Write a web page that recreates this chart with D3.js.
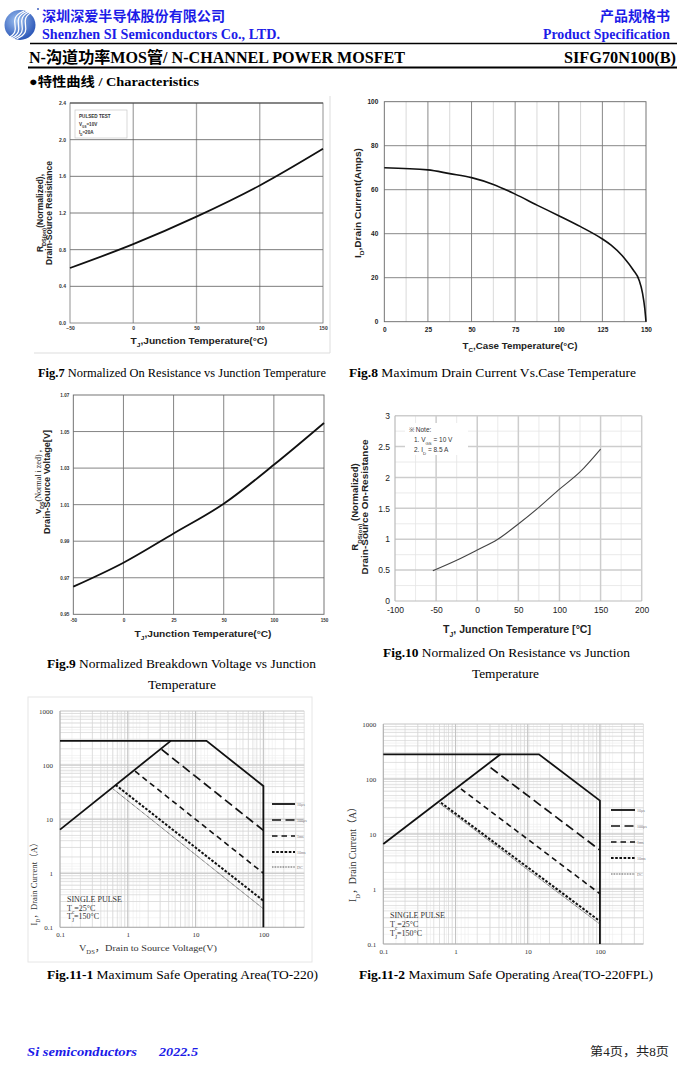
<!DOCTYPE html>
<html>
<head>
<meta charset="utf-8">
<script src="https://cdnjs.cloudflare.com/ajax/libs/d3/7.8.5/d3.min.js"></script>
<style>
  body { margin: 0; background: #fff; }
  svg { display: block; }
</style>
</head>
<body>
<svg id="page" width="690" height="1066"></svg>
<script>
// ---- data ----
const fig7Temp = [-50, 0, 50, 100, 150];
const fig7Rds = [0.60, 0.86, 1.16, 1.50, 1.90];

const fig8Temp = [0, 25, 37.5, 50, 62.5, 75, 87.5, 100, 112.5, 125, 130, 137.5, 142.7, 146, 148, 149.3, 150];
const fig8Id = [70, 69, 67.3, 65.5, 62.4, 58, 53, 48.2, 43.2, 37.6, 34.8, 29, 23.5, 19, 13, 6, 0];

const fig9Labels = ['-50', '0', '25', '50', '100', '150'];
const fig9Vds = [0.9651, 0.9782, 0.9942, 1.0105, 1.0318, 1.0547];
const fig9YTicks = [0.95, 0.97, 0.99, 1.01, 1.03, 1.05, 1.07];

const fig10Temp = [-54, -25, 0, 25, 50, 75, 100, 125, 150];
const fig10Rds = [0.49, 0.66, 0.826, 1.0, 1.247, 1.516, 1.81, 2.09, 2.46];

const soaNames = ['10μs', '100μs', '1ms', '10ms', 'DC'];
// TO-220
const soa1Limit = [[0.1, 280], [14.5, 280], [100, 41], [100, 0.1]];
const soa1Rds = [[0.1, 6.4], [4.3, 280]];
const soa1_100us = [[3.15, 195], [100, 6.2]];
const soa1_1ms = [[1.28, 77], [100, 1.0]];
const soa1_10ms = [[0.66, 43], [100, 0.31]];
const soa1_dc = [[0.61, 36], [100, 0.22]];
// TO-220FPL
const soa2Limit = [[0.1, 281], [14.3, 281], [100, 40.4], [100, 0.1]];
const soa2Rds = [[0.1, 6.6], [4.2, 281]];
const soa2_100us = [[3.06, 161], [100, 5.1]];
const soa2_1ms = [[1.19, 66], [100, 0.82]];
const soa2_10ms = [[0.63, 37], [100, 0.26]];
const soa2_dc = [[0.6, 36], [100, 0.23]];

// ---- common stuff ----
const SANS = "'Liberation Sans', Arial, sans-serif";
const SERIF = "'Liberation Serif', 'Times New Roman', serif";
const CJK = "'Noto Sans CJK SC', sans-serif";
const MIXED = "'Liberation Serif', 'Noto Sans CJK SC', serif";
const BLUE = '#1c1ce8';

const svg = d3.select('#page');

// parts: [text, {sub, size, weight, family}]
function addText(parent, x, y, parts, o) {
    o = o || {};
    const t = parent.append('text')
        .attr('x', x).attr('y', y)
        .attr('font-family', o.family || SANS)
        .attr('font-size', o.size || 10)
        .attr('font-weight', o.weight || 'normal')
        .attr('font-style', o.style || 'normal')
        .attr('fill', o.fill || '#000')
        .attr('text-anchor', o.anchor || 'start');
    if (o.rotate)
        t.attr('transform', `rotate(${o.rotate},${x},${y})`);
    if (o.len)
        t.attr('textLength', o.len).attr('lengthAdjust', 'spacingAndGlyphs');
    for (const p of parts) {
        const [str, st] = typeof p === 'string' ? [p, {}] : p;
        const s = t.append('tspan').text(str);
        if (st.sub) s.attr('baseline-shift', 'sub').attr('font-size', st.size || (o.size || 10) * 0.65);
        else if (st.size) s.attr('font-size', st.size);
        if (st.weight) s.attr('font-weight', st.weight);
        if (st.family) s.attr('font-family', st.family);
    }
    return t;
}

function styleAxis(g, family, size, weight, fill) {
    g.select('.domain').remove();
    g.selectAll('.tick line').remove();
    g.attr('font-family', family).attr('font-size', size)
        .attr('font-weight', weight);
    g.selectAll('text').attr('fill', fill);
}

function gridLines(g, vals, scale, dir, a0, a1, color, w) {
    g.append('g').selectAll('line').data(vals).enter().append('line')
        .attr(dir === 'v' ? 'x1' : 'y1', d => scale(d))
        .attr(dir === 'v' ? 'x2' : 'y2', d => scale(d))
        .attr(dir === 'v' ? 'y1' : 'x1', a0)
        .attr(dir === 'v' ? 'y2' : 'x2', a1)
        .attr('stroke', color).attr('stroke-width', w);
}

// ---- header ----
const hdr = svg.append('g');
const grad = svg.append('defs').append('radialGradient').attr('id', 'lg')
    .attr('cx', '40%').attr('cy', '35%').attr('r', '70%');
grad.append('stop').attr('offset', '0%').attr('stop-color', '#9cc0f0');
grad.append('stop').attr('offset', '100%').attr('stop-color', '#2450b4');
hdr.append('ellipse').attr('cx', 20).attr('cy', 25).attr('rx', 15.5).attr('ry', 15).attr('fill', 'url(#lg)');
for (const off of [-5, -1.5, 2, 5.5]) {
    hdr.append('path')
        .attr('d', `M ${29 + off} ${11} C ${8 + off} ${20}, ${32 + off} ${30}, ${11 + off} ${39}`)
        .attr('fill', 'none').attr('stroke', '#fff').attr('stroke-width', 1.3);
}
hdr.append('circle').attr('cx', 38).attr('cy', 9).attr('r', 1).attr('fill', '#4060c0');

addText(hdr, 42, 21, ['深圳深爱半导体股份有限公司'], { family: CJK, size: 13.5, weight: 'bold', fill: BLUE, len: 183 });
addText(hdr, 42, 39, ['Shenzhen SI Semiconductors Co., LTD.'], { family: SERIF, size: 14, weight: 'bold', fill: BLUE, len: 238 });
addText(hdr, 670, 21, ['产品规格书'], { family: CJK, size: 13.5, weight: 'bold', fill: BLUE, anchor: 'end', len: 70 });
addText(hdr, 670, 39, ['Product Specification'], { family: SERIF, size: 14, weight: 'bold', fill: BLUE, anchor: 'end', len: 127 });
hdr.append('line').attr('x1', 30).attr('x2', 677).attr('y1', 43.5).attr('y2', 43.5).attr('stroke', '#000').attr('stroke-width', 1.5);
addText(hdr, 29, 63, ['N-沟道功率MOS管/ N-CHANNEL POWER MOSFET'], { family: MIXED, size: 16, weight: 'bold', len: 376 });
addText(hdr, 676, 63, ['SIFG70N100(B)'], { family: SERIF, size: 16, weight: 'bold', anchor: 'end', len: 112 });
hdr.append('line').attr('x1', 28).attr('x2', 677).attr('y1', 67.5).attr('y2', 67.5).attr('stroke', '#000').attr('stroke-width', 2);
addText(hdr, 29, 86, ['●特性曲线  / Characteristics'], { family: MIXED, size: 13, weight: 'bold', len: 170 });

// ---- Fig.7 ----
{
    const g = svg.append('g');
    const x = d3.scaleLinear().domain([-50, 150]).range([70, 323]);
    const y = d3.scaleLinear().domain([0, 2.4]).range([323, 103]);
    g.append('line').attr('x1', 330).attr('x2', 330).attr('y1', 96).attr('y2', 353).attr('stroke', '#ddd');
    g.append('line').attr('x1', 34).attr('x2', 330).attr('y1', 353).attr('y2', 353).attr('stroke', '#ddd');
    gridLines(g, [0, 50, 100], x, 'v', 103, 323, '#a8a8a8', 1.3);
    gridLines(g, [0.4, 0.8, 1.2, 1.6, 2.0], y, 'h', 70, 323, '#5a5a5a', 0.8);
    g.append('rect').attr('x', 70).attr('y', 103).attr('width', 253).attr('height', 220)
        .attr('fill', 'none').attr('stroke', '#777').attr('stroke-width', 0.8);
    g.append('line').attr('x1', 70).attr('x2', 323).attr('y1', 103).attr('y2', 103).attr('stroke', '#444');

    const ax = g.append('g').attr('transform', 'translate(0,323)')
        .call(d3.axisBottom(x).tickValues([-50, 0, 50, 100, 150]).tickSize(0).tickPadding(3));
    styleAxis(ax, SANS, 5, 'bold', '#333');
    const ay = g.append('g').attr('transform', 'translate(70,0)')
        .call(d3.axisLeft(y).tickValues(d3.range(0, 2.41, 0.4)).tickFormat(d3.format('.1f')).tickSize(0).tickPadding(4));
    styleAxis(ay, SANS, 5, 'bold', '#333');

    g.append('rect').attr('x', 75).attr('y', 110).attr('width', 52).attr('height', 28)
        .attr('fill', '#fff').attr('stroke', '#c8c8c8').attr('stroke-width', 0.7);
    addText(g, 79, 118, ['PULSED TEST'], { size: 4.6, weight: 'bold', fill: '#333' });
    addText(g, 79, 126, ['V', ['GS', { sub: 1 }], '=10V'], { size: 4.6, weight: 'bold', fill: '#333' });
    addText(g, 79, 134, ['I', ['D', { sub: 1 }], '=20A'], { size: 4.6, weight: 'bold', fill: '#333' });

    g.append('path').datum(fig7Temp.map((t, i) => [t, fig7Rds[i]]))
        .attr('d', d3.line().x(d => x(d[0])).y(d => y(d[1])).curve(d3.curveMonotoneX))
        .attr('fill', 'none').attr('stroke', '#111').attr('stroke-width', 1.8);

    addText(g, 43, 213, ['R', ['DS(on)', { sub: 1 }], '(Normalized),'], { size: 8.5, weight: 'bold', anchor: 'middle', rotate: -90, fill: '#222' });
    addText(g, 52, 213, ['Drain-Source Resisitance'], { size: 8.5, weight: 'bold', anchor: 'middle', rotate: -90, fill: '#222', len: 104 });
    addText(g, 199, 344, ['T', ['J', { sub: 1 }], ',Junction Temperature(°C)'], { size: 9, weight: 'bold', anchor: 'middle', fill: '#222', len: 137 });
}

// ---- Fig.8 ----
{
    const g = svg.append('g');
    const x = d3.scaleLinear().domain([0, 150]).range([384.3, 646]);
    const y = d3.scaleLinear().domain([0, 100]).range([321.7, 101.7]);
    gridLines(g, [12.5, 37.5, 62.5, 87.5, 112.5, 137.5], x, 'v', 101.7, 321.7, '#cfcfcf', 0.8);
    gridLines(g, [25, 50, 75, 100, 125], x, 'v', 101.7, 321.7, '#7a7a7a', 0.9);
    gridLines(g, [20, 40, 60, 80], y, 'h', 384.3, 646, '#7a7a7a', 0.9);
    g.append('rect').attr('x', 384.3).attr('y', 101.7).attr('width', 261.7).attr('height', 220)
        .attr('fill', 'none').attr('stroke', '#666').attr('stroke-width', 0.9);

    const ax = g.append('g').attr('transform', 'translate(0,321.7)')
        .call(d3.axisBottom(x).tickValues([0, 25, 50, 75, 100, 125, 150]).tickSize(0).tickPadding(6));
    styleAxis(ax, SANS, 6.5, 'bold', '#222');
    const ay = g.append('g').attr('transform', 'translate(384.3,0)')
        .call(d3.axisLeft(y).tickValues([0, 20, 40, 60, 80, 100]).tickSize(0).tickPadding(6));
    styleAxis(ay, SANS, 6.5, 'bold', '#222');

    g.append('path').datum(fig8Temp.map((t, i) => [t, fig8Id[i]]))
        .attr('d', d3.line().x(d => x(d[0])).y(d => y(d[1])).curve(d3.curveMonotoneX))
        .attr('fill', 'none').attr('stroke', '#111').attr('stroke-width', 1.6);

    addText(g, 361, 203, ['I', ['D', { sub: 1 }], ',Drain Current(Amps)'], { size: 8.5, weight: 'bold', anchor: 'middle', rotate: -90, fill: '#222', len: 110 });
    addText(g, 520, 349, ['T', ['C', { sub: 1 }], ',Case Temperature(°C)'], { size: 8.5, weight: 'bold', anchor: 'middle', fill: '#222', len: 115 });
}

// ---- Fig.9 ----
{
    const g = svg.append('g');
    const x = d3.scaleLinear().domain([0, fig9Labels.length - 1]).range([73.3, 324]);
    const y = d3.scaleLinear().domain([0.95, 1.07]).range([614.3, 395]);
    gridLines(g, d3.range(1, fig9Labels.length - 1), x, 'v', 395, 614.3, '#777', 0.9);
    gridLines(g, fig9YTicks.slice(1, -1), y, 'h', 73.3, 324, '#777', 0.9);
    g.append('rect').attr('x', 73.3).attr('y', 395).attr('width', 250.7).attr('height', 219.3)
        .attr('fill', 'none').attr('stroke', '#666').attr('stroke-width', 0.9);

    const ax = g.append('g').attr('transform', 'translate(0,614.3)')
        .call(d3.axisBottom(x).tickValues(d3.range(fig9Labels.length)).tickFormat(i => fig9Labels[i]).tickSize(0).tickPadding(4));
    styleAxis(ax, SANS, 4.6, 'bold', '#333');
    const ay = g.append('g').attr('transform', 'translate(73.3,0)')
        .call(d3.axisLeft(y).tickValues(fig9YTicks).tickFormat(d3.format('.2f')).tickSize(0).tickPadding(4));
    styleAxis(ay, SANS, 4.6, 'bold', '#333');

    g.append('path').datum(fig9Vds.map((v, i) => [i, v]))
        .attr('d', d3.line().x(d => x(d[0])).y(d => y(d[1])).curve(d3.curveMonotoneX))
        .attr('fill', 'none').attr('stroke', '#111').attr('stroke-width', 1.8);

    addText(g, 41, 482, ['V', ['DS', { sub: 1 }], ['(Normal i zed)', { family: SERIF, weight: 'normal' }], ' ,'], { size: 8, weight: 'bold', anchor: 'middle', rotate: -90, fill: '#222' });
    addText(g, 50, 482, ['Drain-Source Voltage[V]'], { size: 8.2, weight: 'bold', anchor: 'middle', rotate: -90, fill: '#222', len: 104 });
    addText(g, 203, 637, ['T', ['J', { sub: 1 }], ',Junction Temperature(°C)'], { size: 9, weight: 'bold', anchor: 'middle', fill: '#222', len: 137 });
}

// ---- Fig.10 ----
{
    const g = svg.append('g');
    const x = d3.scaleLinear().domain([-100, 200]).range([395, 641.7]);
    const y = d3.scaleLinear().domain([0, 3]).range([601, 415.7]);
    gridLines(g, d3.range(-75, 200, 50), x, 'v', 415.7, 601, '#e4e4e4', 0.8);
    gridLines(g, d3.range(0.25, 3, 0.5), y, 'h', 395, 641.7, '#e4e4e4', 0.8);
    gridLines(g, d3.range(-50, 201, 50), x, 'v', 415.7, 601, '#cdcdcd', 1.5);
    gridLines(g, d3.range(0.5, 3.01, 0.5), y, 'h', 395, 641.7, '#cdcdcd', 1.5);
    g.append('line').attr('x1', 395).attr('x2', 395).attr('y1', 415.7).attr('y2', 601).attr('stroke', '#bbb').attr('stroke-width', 1.2);
    g.append('line').attr('x1', 395).attr('x2', 641.7).attr('y1', 601).attr('y2', 601).attr('stroke', '#bbb').attr('stroke-width', 1.2);

    const ax = g.append('g').attr('transform', 'translate(0,601)')
        .call(d3.axisBottom(x).tickValues(d3.range(-100, 201, 50)).tickFormat(d => d < 0 ? '-' + Math.abs(d) : String(d)).tickSize(0).tickPadding(6));
    styleAxis(ax, SANS, 8.5, 'normal', '#222');
    const ay = g.append('g').attr('transform', 'translate(395,0)')
        .call(d3.axisLeft(y).tickValues(d3.range(0, 3.01, 0.5)).tickFormat(d => String(+d.toFixed(1))).tickSize(0).tickPadding(5));
    styleAxis(ay, SANS, 8.5, 'normal', '#222');

    g.append('rect').attr('x', 405).attr('y', 423).attr('width', 63).attr('height', 32).attr('fill', '#fff');
    addText(g, 409, 432, ['※ Note:'], { size: 6.5, fill: '#333' });
    addText(g, 414, 442, ['1. V', ['GS', { sub: 1 }], ' = 10 V'], { size: 6.5, fill: '#333' });
    addText(g, 414, 451.5, ['2. I', ['D', { sub: 1 }], ' = 8.5 A'], { size: 6.5, fill: '#333' });

    g.append('path').datum(fig10Temp.map((t, i) => [t, fig10Rds[i]]))
        .attr('d', d3.line().x(d => x(d[0])).y(d => y(d[1])).curve(d3.curveMonotoneX))
        .attr('fill', 'none').attr('stroke', '#444').attr('stroke-width', 1.1);

    addText(g, 358, 507, ['R', ['DS(on)', { sub: 1 }], ' (Normalized)'], { size: 9.5, weight: 'bold', anchor: 'middle', rotate: -90, fill: '#222' });
    addText(g, 368, 507, ['Drain-Source On-Resistance'], { size: 9.5, weight: 'bold', anchor: 'middle', rotate: -90, fill: '#222', len: 135 });
    addText(g, 517, 633, ['T', ['J', { sub: 1 }], ', Junction Temperature [°C]'], { size: 10, weight: 'bold', anchor: 'middle', fill: '#222', len: 148 });
}

// ---- SOA figures ----
function logGridVals(lo, hi) {
    const out = [];
    for (let e = lo; e < hi; e++)
        for (let k = 1; k < 10; k++) out.push(k * Math.pow(10, e));
    return out;
}

function soaChart(o) {
    const g = svg.append('g');
    const x = d3.scaleLog().domain([0.1, 400]).range([o.x0, o.x1]);
    const y = d3.scaleLog().domain([0.1, 1000]).range([o.y1, o.y0]);
    const xv = logGridVals(-1, 3).filter(v => v <= 400);
    const yv = logGridVals(-1, 3);
    // half steps to get the dense look of the original
    const xh = logGridVals(-1, 3).map(v => v * 1.5).filter(v => v < 400);
    const yh = logGridVals(-1, 3).map(v => v * 1.5).filter(v => v < 1000);
    gridLines(g, xh, x, 'v', o.y0, o.y1, '#ececec', 0.6);
    gridLines(g, yh, y, 'h', o.x0, o.x1, '#ececec', 0.6);
    gridLines(g, xv, x, 'v', o.y0, o.y1, '#d6d6d6', 0.7);
    gridLines(g, yv, y, 'h', o.x0, o.x1, '#d6d6d6', 0.7);
    gridLines(g, [1, 10, 100], x, 'v', o.y0, o.y1, '#c4c4c4', 1);
    gridLines(g, [1, 10, 100, 1000], y, 'h', o.x0, o.x1, '#c4c4c4', 1);
    g.append('line').attr('x1', o.x0).attr('x2', o.x0).attr('y1', o.y0).attr('y2', o.y1).attr('stroke', '#aaa');
    g.append('line').attr('x1', o.x0).attr('x2', o.x1).attr('y1', o.y1).attr('y2', o.y1).attr('stroke', '#aaa');

    const ax = g.append('g').attr('transform', `translate(0,${o.y1})`)
        .call(d3.axisBottom(x).tickValues([0.1, 1, 10, 100]).tickFormat(d => d < 1 ? '0.1' : String(d)).tickSize(0).tickPadding(5));
    styleAxis(ax, SERIF, 7, 'normal', '#333');
    const ay = g.append('g').attr('transform', `translate(${o.x0 - 2},0)`)
        .call(d3.axisLeft(y).tickValues([0.1, 1, 10, 100, 1000]).tickFormat(d => d < 1 ? '0.1' : String(d)).tickSize(0).tickPadding(5));
    styleAxis(ay, SERIF, 7, 'normal', '#333');

    const line = d3.line().x(d => x(d[0])).y(d => y(d[1]));
    const styles = [
        { dash: null, w: 1.8, c: '#111' },
        { dash: '9,4.5', w: 1.7, c: '#111' },
        { dash: '5.5,4', w: 1.6, c: '#111' },
        { dash: '2.6,1.6', w: 2, c: '#111' },
        { dash: '0.8,0.8', w: 1, c: '#333' }
    ];
    const series = [o.limit, o.us100, o.ms1, o.ms10, o.dc];
    series.forEach((s, i) => {
        g.append('path').datum(s).attr('d', line)
            .attr('fill', 'none').attr('stroke', styles[i].c).attr('stroke-width', styles[i].w)
            .attr('stroke-dasharray', styles[i].dash);
    });
    g.append('path').datum(o.rds).attr('d', line)
        .attr('fill', 'none').attr('stroke', '#111').attr('stroke-width', 1.8);

    // legend
    soaNames.forEach((n, i) => {
        const ly = o.legY[i];
        g.append('line').attr('x1', o.legX).attr('x2', o.legX + o.legW).attr('y1', ly).attr('y2', ly)
            .attr('stroke', styles[i].c).attr('stroke-width', styles[i].w).attr('stroke-dasharray', styles[i].dash);
        addText(g, o.legX + o.legW + 2, ly + 1.5, [n], { family: SERIF, size: 4, fill: '#777' });
    });

    addText(g, o.noteX, o.noteY, ['SINGLE PULSE'], { family: SERIF, size: 8, fill: '#333' });
    addText(g, o.noteX, o.noteY + o.noteDy, ['T', ['c', { sub: 1 }], '=25°C'], { family: SERIF, size: 8, fill: '#333' });
    addText(g, o.noteX, o.noteY + 2 * o.noteDy, ['T', ['J', { sub: 1 }], '=150°C'], { family: SERIF, size: 8, fill: '#333' });

    addText(g, o.ytX, o.ytY, ['I', ['D', { sub: 1 }], '，Drain Current（A）'], { family: MIXED, size: o.ytSize, anchor: 'middle', rotate: -90, fill: '#333', len: o.ytLen });
    return g;
}

// Fig.11-1 frame
svg.append('rect').attr('x', 28).attr('y', 697).attr('width', 284).attr('height', 265)
    .attr('fill', 'none').attr('stroke', '#e6e6e6').attr('stroke-width', 1);

const soa1 = soaChart({
    x0: 60, x1: 304.2, y0: 711, y1: 927.3,
    limit: soa1Limit, rds: soa1Rds, us100: soa1_100us, ms1: soa1_1ms, ms10: soa1_10ms, dc: soa1_dc,
    legX: 272, legW: 23, legY: [804, 820, 836, 852, 867],
    noteX: 67, noteY: 902, noteDy: 8.5,
    ytX: 37, ytY: 882, ytSize: 9, ytLen: 87
});
addText(soa1, 148, 951, ['V', ['DS', { sub: 1 }], '，Drain to Source Voltage(V)'], { family: MIXED, size: 8.5, anchor: 'middle', fill: '#333', len: 138 });

soaChart({
    x0: 383.3, x1: 643.4, y0: 724, y1: 944,
    limit: soa2Limit, rds: soa2Rds, us100: soa2_100us, ms1: soa2_1ms, ms10: soa2_10ms, dc: soa2_dc,
    legX: 611, legW: 24, legY: [810, 826, 842, 858, 874],
    noteX: 390, noteY: 918, noteDy: 9,
    ytX: 356, ytY: 852, ytSize: 10, ytLen: 100
});

// ---- captions ----
function caption(x, y, bold, rest, len, anchor) {
    addText(svg, x, y, [[bold, { weight: 'bold' }], rest], { family: SERIF, size: 12.5, len: len, anchor: anchor || 'start' });
}
caption(38, 377, 'Fig.7', ' Normalized On Resistance vs Junction Temperature', 288);
caption(349, 377, 'Fig.8', ' Maximum Drain Current Vs.Case Temperature', 287);
caption(47, 668, 'Fig.9', ' Normalized Breakdown Voltage vs Junction', 269);
addText(svg, 148, 689, ['Temperature'], { family: SERIF, size: 12.5, len: 68 });
caption(383, 657, 'Fig.10', ' Normalized On Resistance vs Junction', 247);
addText(svg, 472, 678, ['Temperature'], { family: SERIF, size: 12.5, len: 67 });
caption(47, 979, 'Fig.11-1', ' Maximum Safe Operating Area(TO-220)', 271);
caption(359, 979, 'Fig.11-2', ' Maximum Safe Operating Area(TO-220FPL)', 294);

// ---- footer ----
addText(svg, 27, 1056, ['Si semiconductors'], { family: SERIF, size: 13, weight: 'bold', style: 'italic', fill: BLUE, len: 110 });
addText(svg, 159, 1056, ['2022.5'], { family: SERIF, size: 13, weight: 'bold', style: 'italic', fill: BLUE, len: 39 });
addText(svg, 669, 1056, ['第4页，共8页'], { family: MIXED, size: 12, anchor: 'end', fill: '#222', len: 79 });
</script>
</body>
</html>
